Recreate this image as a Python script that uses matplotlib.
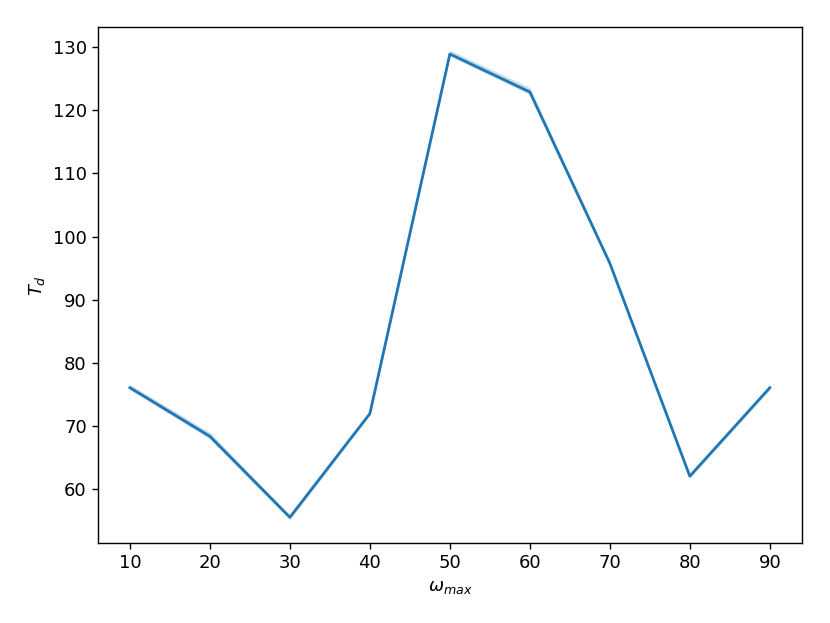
import numpy as np
import matplotlib
matplotlib.use('Agg')
import matplotlib.pyplot as plt

omega_max = [10, 20, 30, 40, 50, 60, 70, 80, 90]
td_mean = [76.1, 68.4, 55.6, 72.0, 128.9, 122.9, 95.8, 62.1, 76.1]
td_low = [75.8, 68.0, 55.2, 71.8, 128.6, 122.5, 95.5, 61.8, 75.8]
td_high = [76.6, 69.0, 55.9, 72.2, 129.5, 123.6, 96.1, 62.3, 76.5]

plt.rcParams['font.size'] = 13

fig, ax = plt.subplots(figsize=(8.3, 6.23), dpi=100)
fig.subplots_adjust(left=0.118, right=0.966, top=0.957, bottom=0.128)

ax.fill_between(omega_max, td_low, td_high, color='C0', alpha=0.25, linewidth=0)
ax.plot(omega_max, td_mean, color='C0', linewidth=2.0)

ax.set_xlabel(r'$\omega_{max}$')
ax.set_ylabel(r'$T_d$')
ax.set_xticks(omega_max)
ax.tick_params(length=4.5, width=1.0)
for s in ax.spines.values():
    s.set_linewidth(1.0)

fig.savefig('out.png', dpi=100)
